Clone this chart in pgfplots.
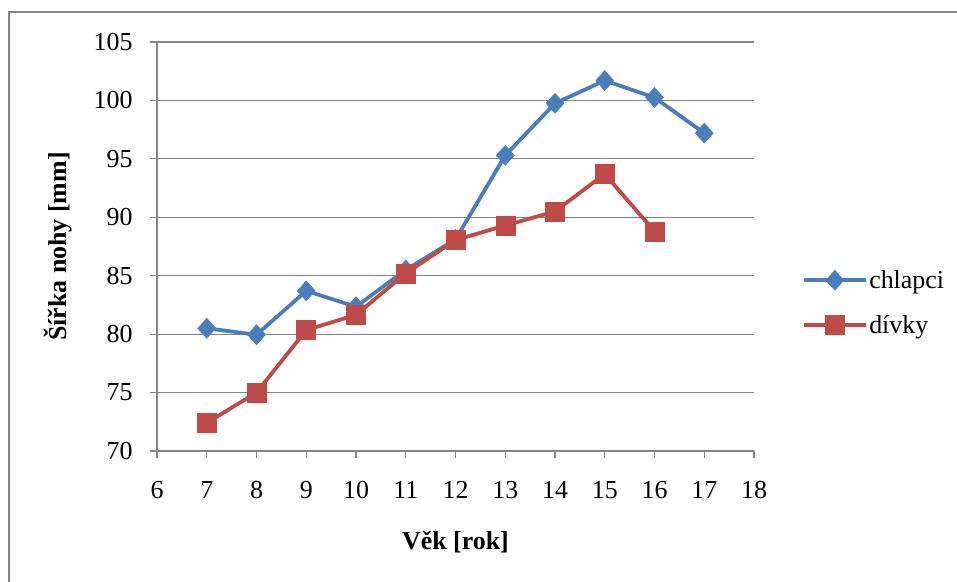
\documentclass[border=0pt]{standalone}
\usepackage{pgfplots}
\pgfplotsset{compat=1.18}
\usepackage{fontspec}
\setmainfont{Liberation Serif}
\definecolor{cblue}{HTML}{4A7EBB}
\definecolor{cred}{HTML}{BE4B48}
\definecolor{cgrid}{HTML}{868686}
\begin{document}
\begin{tikzpicture}
\useasboundingbox (-157bp,-131bp) rectangle (800bp,451bp);
\draw[color=cgrid, line width=2bp] (-147.5bp,-200bp) -- (-147.5bp,439bp) -- (900bp,439bp);
\begin{axis}[at={(0,0)}, anchor=south west, scale only axis, width=597bp, height=409bp,
 xmin=6, xmax=18, ymin=70, ymax=105,
 xtick={6,...,18}, ytick={70,75,...,105},
 axis lines*=left, axis line style={cgrid, line width=1.2bp},
 tick style={cgrid, line width=1.2bp}, tick align=outside, major tick length=7bp,
 ymajorgrids, grid style={cgrid, line width=1.2bp},
 /pgf/number format/assume math mode=true,
 tick label style={font=\fontsize{26}{30}\selectfont, text=black},
 xticklabel style={anchor=center, yshift=-32bp},
 yticklabel style={anchor=east, xshift=-14bp},
 xlabel={Věk [rok]}, ylabel={Šířka nohy [mm]},
 label style={font=\fontsize{26}{30}\selectfont\bfseries},
 xlabel style={at={(axis description cs:0.5,-0.2225)}, anchor=center},
 ylabel style={at={(axis description cs:-0.1658,0.5)}, anchor=center},
 legend style={font=\fontsize{26}{30}\selectfont, draw=none, fill=none, inner sep=0pt,
   at={(axis description cs:1.08,0.363)}, anchor=west, row sep=22bp,
   nodes={inner sep=1.5bp}},
 legend cell align=left,
 legend image code/.code={\draw[#1, mark repeat=2, mark phase=2] plot coordinates {(0bp,0bp) (31bp,0bp) (62bp,0bp)};},
]
\addplot[cblue, line width=3.8bp, mark=diamond*, mark size=10bp, mark options={fill=cblue, draw=cblue, line width=0.5bp, xscale=1.2}]
 coordinates {(7,80.5)(8,79.95)(9,83.7)(10,82.35)(11,85.5)(12,88.1)(13,95.3)(14,99.75)(15,101.7)(16,100.25)(17,97.2)};
\addlegendentry{chlapci}
\addplot[cred, line width=3.8bp, mark=square*, mark size=9.5bp, mark options={fill=cred, draw=cred, line width=0.5bp}]
 coordinates {(7,72.4)(8,75.0)(9,80.35)(10,81.65)(11,85.2)(12,88.05)(13,89.3)(14,90.5)(15,93.7)(16,88.8)};
\addlegendentry{dívky}
\end{axis}
\end{tikzpicture}
\end{document}
